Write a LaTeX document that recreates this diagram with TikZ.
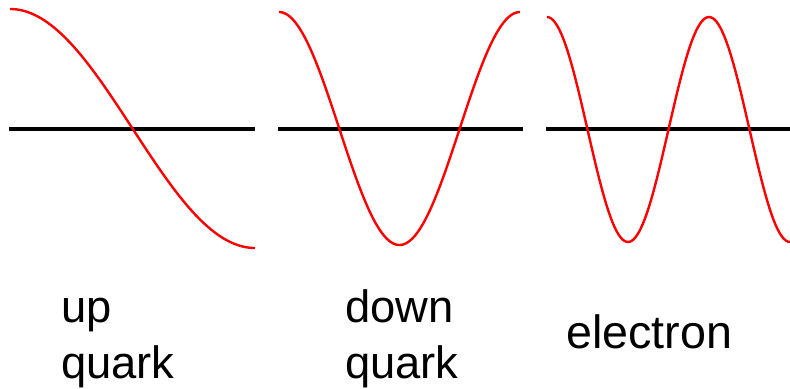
\documentclass[tikz,border=0pt]{standalone}
\usepackage{fontspec}
\setmainfont{Liberation Sans}
\usetikzlibrary{positioning}

\begin{document}
\begin{tikzpicture}[x=0.75pt, y=-0.75pt]
    % Stili
    \tikzset{axis/.style={black, line width=3.4pt},
             wave/.style={red, line width=1.8pt, line join=round, samples=120},
             lbl/.style={inner sep=0pt, align=left, font=\fontsize{34}{42}\selectfont}}
    \useasboundingbox (0,0) rectangle (790,389);

    % Assi
    \coordinate (a1) at (9,129);   \coordinate (b1) at (255,129);
    \coordinate (a2) at (278,129); \coordinate (b2) at (523,129);
    \coordinate (a3) at (546,129); \coordinate (b3) at (790,129);
    \draw [axis] (a1) -- (b1);
    \draw [axis] (a2) -- (b2);
    \draw [axis] (a3) -- (b3);

    % Onde
    \draw [wave] plot [domain=10:255] (\x, {128.5-119.5*cos(180/245*(\x-10))});
    \draw [wave] plot [domain=279:520] (\x, {128.5-116.5*cos(360/241*(\x-279))});
    \draw [wave] plot [domain=547:790] (\x, {129.5-112.5*cos(360/162*(\x-547))});

    % Etichette
    \node [lbl, anchor=base west] (up) at (61,378) {up\\quark};
    \node [lbl, anchor=base west] (down) at (345,378) {down\\quark};
    \node [lbl, anchor=base west, font=\fontsize{35}{42}\selectfont] (el) at (566,348) {electron};
\end{tikzpicture}
\end{document}
